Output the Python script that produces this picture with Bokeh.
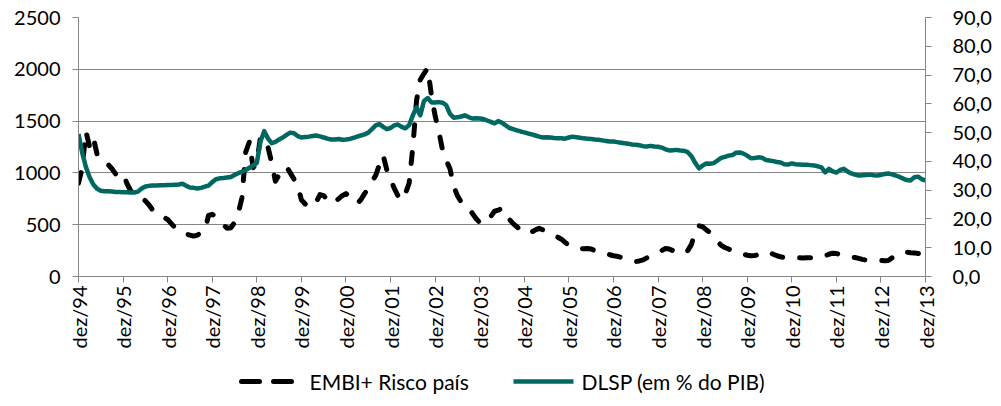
from math import pi
from bokeh.plotting import figure
from bokeh.layouts import column
from bokeh.core.properties import value
from bokeh.models import (Range1d, LinearAxis, FixedTicker, CustomJSTickFormatter,
                          ColumnDataSource)
from bokeh.embed import file_html
from bokeh.resources import INLINE

# ---- data (monthly, dez/94 .. dez/13) ----
embi = [900, 1050, 1400, 1250, 1340, 1180, 1120, 1100, 1080, 1040, 990, 980,
        1000, 900, 830, 800, 780, 760, 730, 690, 640, 610, 590, 570,
        550, 510, 470, 445, 430, 410, 400, 390, 400, 420, 440, 590,
        600, 580, 540, 500, 465, 470, 520, 610, 760, 1200, 1300, 1050,
        1100, 1350, 1320, 1250, 1100, 920, 980, 1010, 1060, 1000, 940, 880,
        740, 700, 680, 670, 720, 790, 780, 740, 705, 720, 750, 780,
        800, 770, 730, 705, 740, 800, 850, 920, 975, 1080, 1170, 1030,
        940, 850, 780, 735, 800, 900, 1250, 1700, 1900, 1960, 2010, 1750,
        1550, 1400, 1220, 1120, 1040, 870, 780, 720, 690, 660, 610, 560,
        520, 515, 525, 580, 630, 640, 660, 600, 550, 510, 480, 450,
        420, 415, 430, 450, 465, 450, 430, 410, 395, 380, 360, 330,
        300, 280, 275, 270, 268, 270, 265, 250, 235, 225, 220, 210,
        200, 195, 185, 175, 165, 155, 145, 150, 160, 180, 200, 215,
        230, 250, 270, 265, 250, 235, 225, 220, 250, 310, 430, 490,
        480, 450, 425, 390, 340, 300, 280, 265, 250, 235, 225, 215,
        205, 200, 203, 210, 225, 240, 232, 215, 200, 190, 183, 182,
        180, 183, 181, 179, 182, 180, 178, 181, 185, 200, 215, 225,
        222, 210, 195, 188, 185, 183, 175, 165, 158, 155, 153, 156,
        154, 152, 155, 180, 205, 225, 232, 235, 230, 228, 222, 218,
        215]

dlsp = [49.5, 43.0, 38.0, 34.5, 32.0, 30.5, 29.8, 29.6, 29.6, 29.5, 29.4, 29.4,
        29.3, 29.3, 29.2, 29.2, 29.5, 30.6, 31.3, 31.5, 31.6, 31.6, 31.7, 31.7,
        31.8, 31.8, 31.9, 32.0, 32.2, 31.5, 30.9, 30.8, 30.6, 30.8, 31.2, 31.6,
        32.8, 33.8, 34.1, 34.2, 34.4, 34.6, 35.3, 35.9, 36.4, 37.0, 37.8, 38.6,
        39.5, 47.0, 50.5, 48.0, 46.3, 46.8, 47.6, 48.3, 49.2, 50.0, 49.8, 48.8,
        48.3, 48.5, 48.6, 48.8, 49.0, 48.7, 48.3, 47.9, 47.6, 47.6, 47.8, 47.5,
        47.6, 47.8, 48.2, 48.6, 49.0, 49.4, 50.0, 51.2, 52.5, 53.0, 52.0, 51.2,
        51.6, 52.5, 52.8, 52.0, 51.5, 52.6, 56.0, 58.7, 56.0, 61.0, 62.0, 60.5,
        60.5, 60.6, 60.4, 59.5, 56.5, 55.2, 55.3, 55.6, 56.0, 55.4, 54.9, 55.0,
        54.9, 54.7, 54.2, 53.7, 53.2, 54.0, 53.4, 52.5, 51.6, 51.2, 50.8, 50.4,
        50.1, 49.7, 49.4, 49.0, 48.6, 48.3, 48.4, 48.3, 48.1, 48.0, 48.0, 47.9,
        48.3, 48.6, 48.4, 48.2, 48.0, 47.9, 47.8, 47.6, 47.5, 47.3, 47.1, 46.9,
        46.9, 46.7, 46.5, 46.3, 46.1, 45.9, 45.8, 45.6, 45.3, 45.2, 45.4, 45.2,
        45.1, 44.8, 44.2, 43.8, 43.9, 44.0, 43.8, 43.7, 43.2, 41.8, 39.5, 37.6,
        38.5, 39.3, 39.2, 39.4, 40.3, 41.2, 41.6, 42.0, 42.2, 43.0, 43.1, 42.7,
        42.0, 41.1, 41.2, 41.4, 41.3, 40.5, 40.3, 40.1, 39.8, 39.6, 39.0, 38.9,
        39.3, 39.0, 38.9, 38.8, 38.8, 38.7, 38.6, 38.3, 37.9, 36.2, 37.4, 36.5,
        36.1, 37.0, 37.4, 36.5, 35.8, 35.4, 35.1, 35.2, 35.3, 35.4, 35.2, 35.1,
        35.3, 35.6, 35.8, 35.5, 35.1, 34.6, 34.0, 33.5, 33.4, 34.5, 34.7, 33.8,
        33.4]

tick_labels = ["dez/94", "dez/95", "dez/96", "dez/97", "dez/98", "dez/99", "dez/00",
               "dez/01", "dez/02", "dez/03", "dez/04", "dez/05", "dez/06", "dez/07",
               "dez/08", "dez/09", "dez/10", "dez/11", "dez/12", "dez/13"]
series_names = ["EMBI+ Risco país", "DLSP (em % do PIB)"]

months = list(range(len(embi)))
tick_pos = [12 * i for i in range(len(tick_labels))]

FONT = "Lato"
GRAY = "#868686"
TEAL = "#006861"
W = 1000
FL, FW = 78, 847   # frame left / width in page pixels

p = figure(width=W, height=362, output_backend="svg", toolbar_location=None,
           x_range=Range1d(0, 228), y_range=Range1d(0, 2500),
           min_border_left=FL, min_border_right=W - FL - FW, min_border_top=17,
           min_border_bottom=86, outline_line_color=None)
p.extra_y_ranges = {"pct": Range1d(0, 90)}

# x axis
xa = p.xaxis[0]
xa.ticker = FixedTicker(ticks=tick_pos)
xa.major_label_overrides = {t: l for t, l in zip(tick_pos, tick_labels)}
xa.major_label_orientation = pi / 2

# left axis
ya = p.yaxis[0]
ya.ticker = FixedTicker(ticks=[0, 500, 1000, 1500, 2000, 2500])

# right axis
ra = LinearAxis(y_range_name="pct", ticker=FixedTicker(ticks=list(range(0, 91, 10))),
                formatter=CustomJSTickFormatter(code="return tick.toFixed(1).replace('.', ',');"))
p.add_layout(ra, "right")

for ax in [xa, ya, ra]:
    ax.axis_line_color = GRAY
    ax.major_tick_line_color = GRAY
    ax.major_tick_out = 6
    ax.major_tick_in = 0
    ax.minor_tick_line_color = None
    ax.major_label_text_font = FONT
    ax.major_label_text_font_size = "20px"
    ax.major_label_text_color = "black"
ya.major_label_standoff = 12
ra.major_label_standoff = 21
xa.major_label_standoff = 3

p.xgrid.grid_line_color = None
p.ygrid.grid_line_color = GRAY
p.ygrid.grid_line_width = 1
p.ygrid.ticker = FixedTicker(ticks=[0, 500, 1000, 1500, 2000, 2500])

src = ColumnDataSource(dict(m=months, embi=embi, dlsp=dlsp))
r1 = p.line("m", "embi", source=src, line_color="black", line_width=5,
            line_dash="11 17", line_cap="round", line_join="round")
r2 = p.line("m", "dlsp", source=src, y_range_name="pct", line_color=TEAL,
            line_width=4.5, line_join="round")

# legend strip below the chart; its frame is aligned with the chart frame,
# so the x range is expressed in page pixels
LH = 40
pl = figure(width=W, height=LH, output_backend="svg", toolbar_location=None,
            x_range=Range1d(FL, FL + FW), y_range=Range1d(0, LH),
            x_axis_location=None, y_axis_location=None,
            min_border_left=FL, min_border_right=W - FL - FW, min_border_top=0,
            min_border_bottom=0, outline_line_color=None)
pl.grid.visible = False
ky = LH - 19
pl.line(x=[241, 291], y=[ky, ky], line_color="black", line_width=5,
        line_dash="18 14", line_cap="round")
pl.line(x=[513, 573], y=[ky, ky], line_color=TEAL, line_width=4.5)
pl.text(x=[309, 581], y=[ky, ky], text=series_names, text_font=value(FONT),
        text_font_size="21px", text_baseline="middle", text_align="left",
        text_color="black")

layout = column(p, pl, spacing=0)
open("out.html", "w").write(file_html(layout, INLINE))
